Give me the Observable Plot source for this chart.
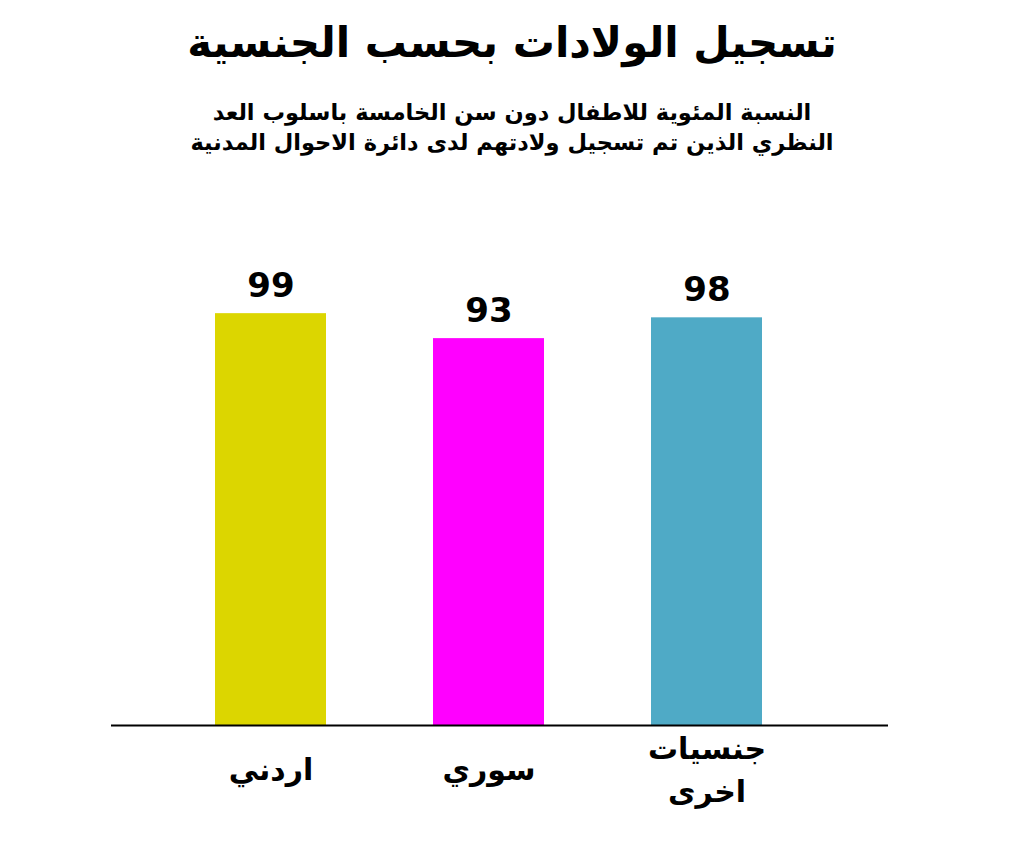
<!DOCTYPE html>
<html lang="ar">
<head>
<meta charset="utf-8">
<script src="https://cdn.jsdelivr.net/npm/d3@7"></script>
<script src="https://cdn.jsdelivr.net/npm/@observablehq/plot@0.6"></script>
<style>
  html, body { margin: 0; padding: 0; background: #fff; }
  body { width: 1024px; height: 844px; overflow: hidden; font-family: "DejaVu Sans", sans-serif; }
  #header { position: relative; width: 1024px; height: 180px; }
  #title { position: absolute; left: 0; width: 1024px; top: 16px; text-align: center; font-size: 42px; font-weight: bold; line-height: 54px; color: #000; direction: rtl; }
  #subtitle { position: absolute; left: 0; width: 1024px; top: 97px; text-align: center; font-size: 22.5px; font-weight: bold; line-height: 30px; color: #000; direction: rtl; }
  #chart svg { display: block; }
</style>
</head>
<body>
<div id="header">
  <div id="title"></div>
  <div id="subtitle"></div>
</div>
<div id="chart"></div>
<script>
const titleText = "تسجيل الولادات بحسب الجنسية";
const subtitleLines = [
  "النسبة المئوية للاطفال دون سن الخامسة باسلوب العد",
  "النظري الذين تم تسجيل ولادتهم لدى دائرة الاحوال المدنية"
];
const categories = ["اردني", "سوري", "جنسيات اخرى"];
const values = [99, 93, 98];
const colors = ["#DCD600", "#FF00FF", "#4FAAC6"];

document.getElementById("title").textContent = titleText;
document.getElementById("subtitle").innerHTML = subtitleLines.map(s => `<div>${s}</div>`).join("");

const data = categories.map((c, i) => ({category: c, value: values[i]}));

const chart = Plot.plot({
  width: 1024,
  height: 664,
  marginTop: 129,
  marginBottom: 119,
  marginLeft: 111,
  marginRight: 136,
  style: {fontFamily: "DejaVu Sans, sans-serif", background: "#fff"},
  x: {domain: categories, range: [106.5, 869.5], padding: 0.492, axis: null},
  y: {domain: [0, 100], axis: null},
  color: {domain: categories, range: colors},
  marks: [
    Plot.barY(data, {x: "category", y: "value", fill: "category"}),
    Plot.text(data, {x: "category", y: "value", text: d => String(d.value), dy: -28, fontSize: 34, fontWeight: "bold", fill: "#000"}),
    Plot.text(data, {x: "category", y: () => 0, text: "category", dy: 41, lineWidth: 4, lineHeight: 1.43, lineAnchor: "middle", fontSize: 30, fontWeight: "bold", fill: "#000"}),
    Plot.ruleY([0], {stroke: "#000", strokeWidth: 2})
  ]
});
document.getElementById("chart").appendChild(chart);
</script>
</body>
</html>
